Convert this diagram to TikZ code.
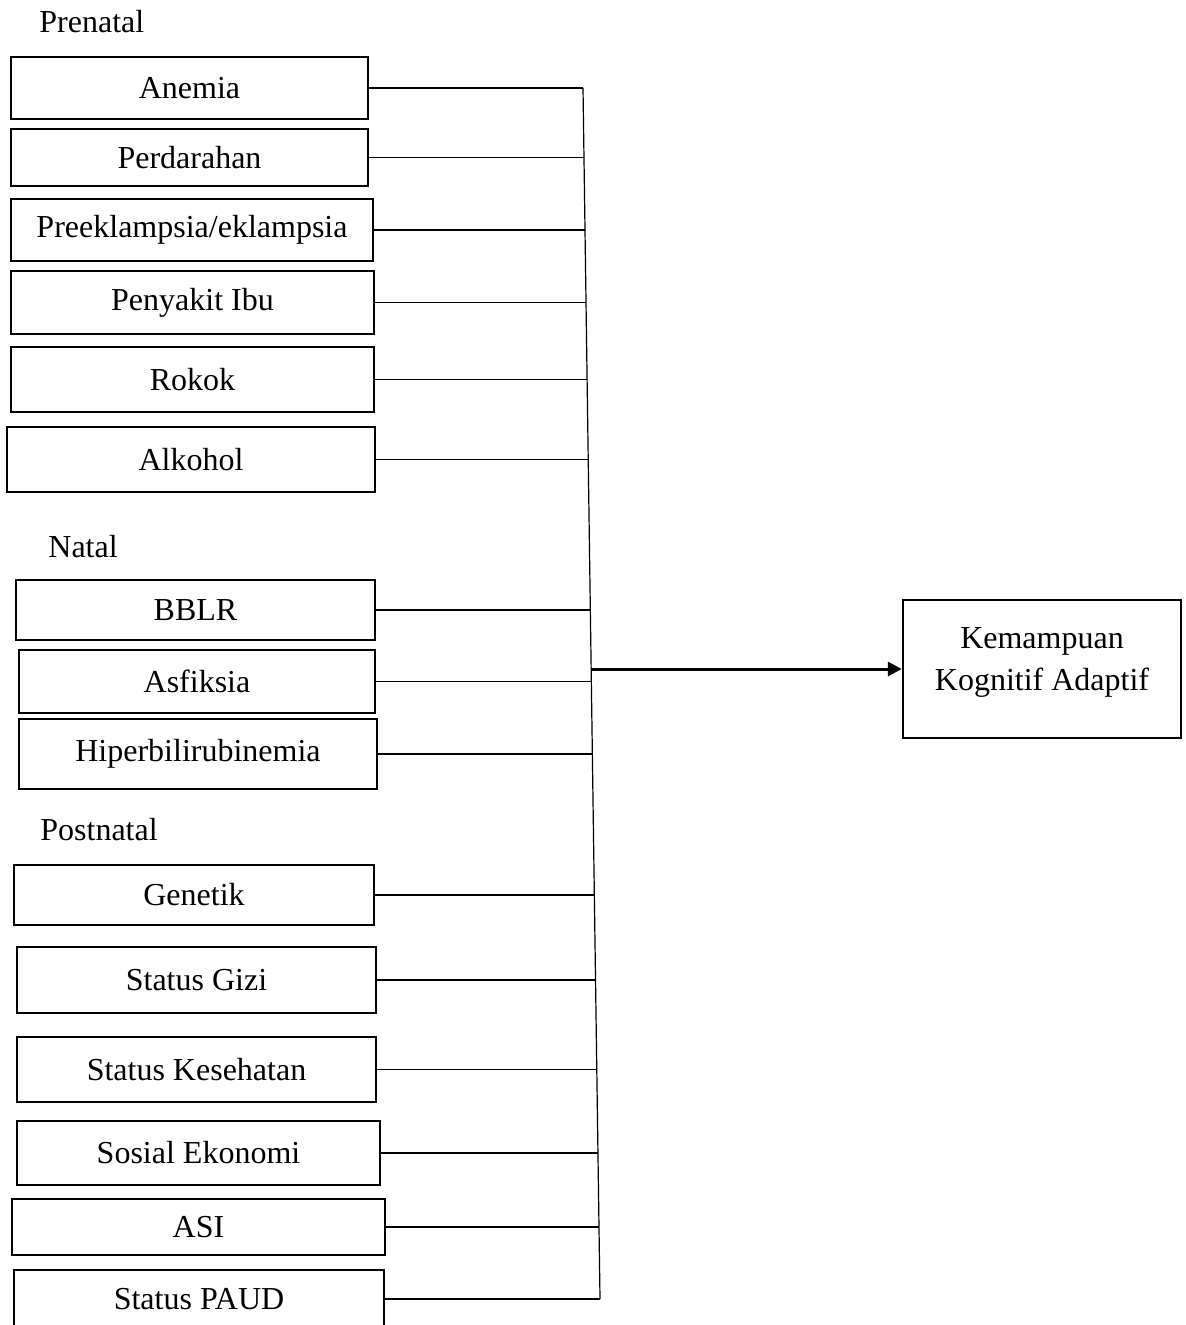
\documentclass[tikz,border=0pt]{standalone}
\usepackage{fontspec}
\setmainfont{Liberation Serif}
\usetikzlibrary{positioning,calc,arrows.meta}
\tikzstyle{factor}=[rectangle, draw=black, line width=1.2pt, inner sep=0pt, text centered, font=\fontsize{16}{21}\selectfont]
\tikzstyle{group}=[anchor=west, inner sep=0pt, font=\fontsize{16}{21}\selectfont]

\begin{document}
\begin{tikzpicture}[
        x=0.5pt, y=-0.5pt,
        line/.style={line width=0.6pt},
        arrow/.style={-{Triangle[length=7pt, width=7pt]}, line width=1.5pt},
      ]
      \useasboundingbox (0,0) rectangle (1186,1325);
      % group labels
      \node (Prenatal) [group] at (39,22) {Prenatal};
      \node (Natal) [group] at (48,547) {Natal};
      \node (Postnatal) [group] at (40,830) {Postnatal};
      % prenatal factors
      \node (Anemia) [factor, minimum width=178.5pt, minimum height=31pt] at (189.5,88) {Anemia};
      \node (Perdarahan) [factor, minimum width=178.5pt, minimum height=28.5pt] at (189.5,157.5) {Perdarahan};
      \node (Preeklampsia) [factor, minimum width=181pt, minimum height=31pt] at (192,230) {Preeklampsia/eklampsia};
      \node (Penyakit) [factor, minimum width=181.5pt, minimum height=31.5pt] at (192.5,302.5) {Penyakit Ibu};
      \node (Rokok) [factor, minimum width=181.5pt, minimum height=32.5pt] at (192.5,379.5) {Rokok};
      \node (Alkohol) [factor, minimum width=184pt, minimum height=32.5pt] at (191,459.5) {Alkohol};
      % natal factors
      \node (BBLR) [factor, minimum width=179.5pt, minimum height=30pt] at (195.5,610) {BBLR};
      \node (Asfiksia) [factor, minimum width=178pt, minimum height=31.5pt] at (197,681.5) {Asfiksia};
      \node (Hiper) [factor, minimum width=179pt, minimum height=35pt] at (198,754) {Hiperbilirubinemia};
      % postnatal factors
      \node (Genetik) [factor, minimum width=180pt, minimum height=30pt] at (194,895) {Genetik};
      \node (Gizi) [factor, minimum width=179.5pt, minimum height=33pt] at (196.5,980) {Status Gizi};
      \node (Kesehatan) [factor, minimum width=179.5pt, minimum height=32.5pt] at (196.5,1069.5) {Status Kesehatan};
      \node (Sosial) [factor, minimum width=181.5pt, minimum height=32pt] at (198.5,1153) {Sosial Ekonomi};
      \node (ASI) [factor, minimum width=186.5pt, minimum height=28pt] at (198.5,1227) {ASI};
      \node (PAUD) [factor, minimum width=185pt, minimum height=29pt] at (199,1299) {Status PAUD};
      % outcome
      \node (Kognitif) [factor, align=center, text depth=9.5pt, minimum width=139pt, minimum height=69pt] at (1042,669) {Kemampuan\\Kognitif Adaptif};
      % collecting line
      \coordinate (SpineTop) at (583,88);
      \coordinate (SpineBot) at (600,1299);
      \draw [line] (SpineTop) -- (SpineBot);
      \draw [line] let \p1=(Anemia.east), \p2=(SpineTop), \p3=(SpineBot) in (\p1) -- ({\x2+(\x3-\x2)*(\y1-\y2)/(\y3-\y2)}, \y1);
      \draw [line] let \p1=(Perdarahan.east), \p2=(SpineTop), \p3=(SpineBot) in (\p1) -- ({\x2+(\x3-\x2)*(\y1-\y2)/(\y3-\y2)}, \y1);
      \draw [line] let \p1=(Preeklampsia.east), \p2=(SpineTop), \p3=(SpineBot) in (\p1) -- ({\x2+(\x3-\x2)*(\y1-\y2)/(\y3-\y2)}, \y1);
      \draw [line] let \p1=(Penyakit.east), \p2=(SpineTop), \p3=(SpineBot) in (\p1) -- ({\x2+(\x3-\x2)*(\y1-\y2)/(\y3-\y2)}, \y1);
      \draw [line] let \p1=(Rokok.east), \p2=(SpineTop), \p3=(SpineBot) in (\p1) -- ({\x2+(\x3-\x2)*(\y1-\y2)/(\y3-\y2)}, \y1);
      \draw [line] let \p1=(Alkohol.east), \p2=(SpineTop), \p3=(SpineBot) in (\p1) -- ({\x2+(\x3-\x2)*(\y1-\y2)/(\y3-\y2)}, \y1);
      \draw [line] let \p1=(BBLR.east), \p2=(SpineTop), \p3=(SpineBot) in (\p1) -- ({\x2+(\x3-\x2)*(\y1-\y2)/(\y3-\y2)}, \y1);
      \draw [line] let \p1=(Asfiksia.east), \p2=(SpineTop), \p3=(SpineBot) in (\p1) -- ({\x2+(\x3-\x2)*(\y1-\y2)/(\y3-\y2)}, \y1);
      \draw [line] let \p1=(Hiper.east), \p2=(SpineTop), \p3=(SpineBot) in (\p1) -- ({\x2+(\x3-\x2)*(\y1-\y2)/(\y3-\y2)}, \y1);
      \draw [line] let \p1=(Genetik.east), \p2=(SpineTop), \p3=(SpineBot) in (\p1) -- ({\x2+(\x3-\x2)*(\y1-\y2)/(\y3-\y2)}, \y1);
      \draw [line] let \p1=(Gizi.east), \p2=(SpineTop), \p3=(SpineBot) in (\p1) -- ({\x2+(\x3-\x2)*(\y1-\y2)/(\y3-\y2)}, \y1);
      \draw [line] let \p1=(Kesehatan.east), \p2=(SpineTop), \p3=(SpineBot) in (\p1) -- ({\x2+(\x3-\x2)*(\y1-\y2)/(\y3-\y2)}, \y1);
      \draw [line] let \p1=(Sosial.east), \p2=(SpineTop), \p3=(SpineBot) in (\p1) -- ({\x2+(\x3-\x2)*(\y1-\y2)/(\y3-\y2)}, \y1);
      \draw [line] let \p1=(ASI.east), \p2=(SpineTop), \p3=(SpineBot) in (\p1) -- ({\x2+(\x3-\x2)*(\y1-\y2)/(\y3-\y2)}, \y1);
      \draw [line] let \p1=(PAUD.east), \p2=(SpineTop), \p3=(SpineBot) in (\p1) -- ({\x2+(\x3-\x2)*(\y1-\y2)/(\y3-\y2)}, \y1);
      % arrow to outcome
      \draw [arrow] let \p1=(Kognitif.west), \p2=(SpineTop), \p3=(SpineBot) in ({\x2+(\x3-\x2)*(\y1-\y2)/(\y3-\y2)}, \y1) -- (Kognitif.west);
    \end{tikzpicture}
\end{document}
